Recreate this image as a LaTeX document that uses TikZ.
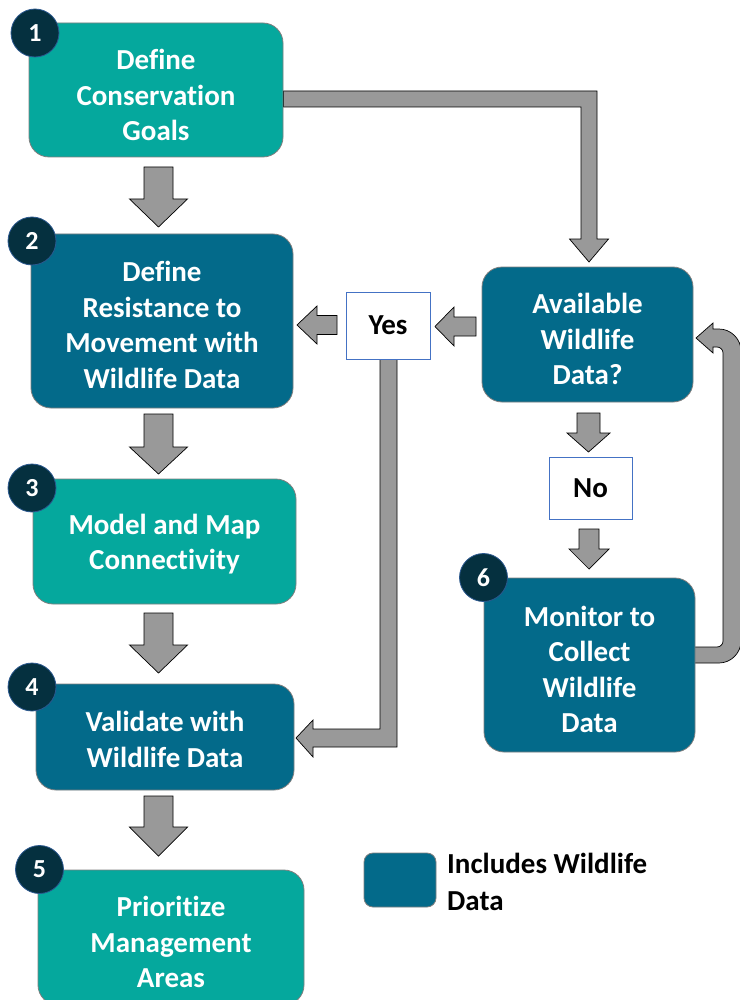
\documentclass[tikz,border=0pt]{standalone}
\usepackage{fontspec}
\setmainfont{Carlito}[Ligatures=NoCommon]
\usetikzlibrary{calc}
\pgfdeclarelayer{bg}
\pgfsetlayers{bg,main}
\definecolor{tealone}{HTML}{05A89D}
\definecolor{blueone}{HTML}{036A8A}
\definecolor{navyone}{HTML}{05303F}
\definecolor{arrgray}{HTML}{999999}
\definecolor{ynborder}{HTML}{4472C4}
\definecolor{boxborder}{HTML}{7F7F7F}
\newcommand\downarr[6]{\filldraw[arr] (#1-#5,#2) -- (#1+#5,#2) -- (#1+#5,#3) -- (#1+#6,#3) -- (#1,#4) -- (#1-#6,#3) -- (#1-#5,#3) -- cycle;}
\newcommand\leftarr[6]{\filldraw[arr] (#2,#1-#5) -- (#3,#1-#5) -- (#3,#1-#6) -- (#4,#1) -- (#3,#1+#6) -- (#3,#1+#5) -- (#2,#1+#5) -- cycle;}
\begin{document}
\begin{tikzpicture}[x=1pt,y=-1pt,
  box/.style={rounded corners=20pt, draw=boxborder, line width=0.8pt, inner sep=0pt},
  tealbox/.style={box, fill=tealone},
  bluebox/.style={box, fill=blueone},
  lbl/.style={text=white, font=\fontsize{29}{35.5}\selectfont\bfseries, align=center, inner sep=0pt},
  num/.style={circle, fill=navyone, draw=ynborder!60!navyone, line width=0.8pt, minimum size=48pt, inner sep=0pt, text=white, font=\fontsize{26}{30}\selectfont\bfseries},
  arr/.style={fill=arrgray, draw=black, line width=0.7pt, line join=miter},
  yn/.style={draw=ynborder, line width=0.8pt, fill=white, inner sep=0pt, text=black, font=\fontsize{29}{34}\selectfont\bfseries}
]
\clip (0,0) rectangle (739,1000);

% boxes
\node[tealbox, minimum width=254pt, minimum height=134pt] (b1) at (156,90) {};
\node[bluebox, minimum width=262pt, minimum height=174pt] (b2) at (162,321) {};
\node[tealbox, minimum width=263pt, minimum height=125pt] (b3) at (164.5,541.5) {};
\node[bluebox, minimum width=258pt, minimum height=106pt] (b4) at (165,737) {};
\node[tealbox, minimum width=266pt, minimum height=135pt] (b5) at (171,937.5) {};
\node[bluebox, minimum width=211pt, minimum height=135pt] (b6) at (587.5,334.5) {};
\node[bluebox, minimum width=211pt, minimum height=174pt] (b7) at (589.5,665) {};
\node[yn, minimum width=84pt, minimum height=67pt] (yes) at (388,325.5) {Yes};
\node[yn, minimum width=83pt, minimum height=62pt] (no) at (590.5,488) {No};
\node[bluebox, rounded corners=9pt, minimum width=72pt, minimum height=54pt] (leg) at (400,880) {};

% labels
\node[lbl] (t1) at (156,95) {Define\\Conservation\\Goals};
\node[lbl] (t2) at (162,325) {Define\\Resistance to\\Movement with\\Wildlife Data};
\node[lbl] (t3) at (164.5,544) {Model and Map\\Connectivity};
\node[lbl] (t4) at (165,739.5) {Validate with\\Wildlife Data};
\node[lbl] (t5) at (171,942) {Prioritize\\Management\\Areas};
\node[lbl] (t6) at (587.5,339) {Available\\Wildlife\\Data?};
\node[lbl] (t7) at (589.5,669.5) {Monitor to\\Collect\\Wildlife\\Data};
\node[lbl, text=black, align=left, anchor=west, font=\fontsize{29}{37}\selectfont\bfseries] (tl) at (447,881.5) {Includes Wildlife\\Data};

% number circles
\node[num] (n1) at (35,33) {1};
\node[num] (n2) at (32,241) {2};
\node[num] (n3) at (32,488) {3};
\node[num] (n4) at (32,687) {4};
\node[num] (n5) at (39.5,869.5) {5};
\node[num] (n6) at (483.5,577.5) {6};

% connectors
\begin{pgfonlayer}{bg}
\fill[white] (0,0) rectangle (739,1000);
\downarr{158.5}{167}{199}{227}{14.5}{29}
\downarr{158.5}{414}{447}{474}{14.5}{29}
\downarr{158.5}{613}{645}{673}{14.5}{29}
\downarr{158.5}{796}{827}{856}{14.5}{29}
\downarr{588.5}{413}{433}{452}{11.5}{21.5}
\downarr{589}{529}{549}{569}{10}{20}
\leftarr{326.5}{476}{454}{435}{9.5}{19.5}
\leftarr{325}{337}{317}{297}{9.5}{19}
% b1 -> b6
\filldraw[arr] (b1.east |- 0,91) -- (597,91) -- (597,239) -- (608.5,239) -- (589,262) -- (569.5,239) -- (581,239) -- (581,107) -- (b1.east |- 0,107) -- cycle;
% yes -> b4
\filldraw[arr] (yes.south -| 380,0) -- (yes.south -| 397,0) -- (397,747) -- (313,747) -- (313,757) -- (296,738) -- (313,720) -- (313,729) -- (380,729) -- cycle;
% b7 -> b6 loop
\filldraw[arr] (690,647) -- (717,647) .. controls (720.3,647) and (723,644.3) .. (723,641) -- (723,353) .. controls (723,349.7) and (720.3,347) .. (717,347) -- (713,347) -- (713,353) -- (696,338) -- (713,323) -- (713,329) -- (719,329) .. controls (731,329) and (741,339) .. (741,351) -- (741,641) .. controls (741,653) and (731,663) .. (719,663) -- (690,663) -- cycle;
\end{pgfonlayer}
\end{tikzpicture}
\end{document}
